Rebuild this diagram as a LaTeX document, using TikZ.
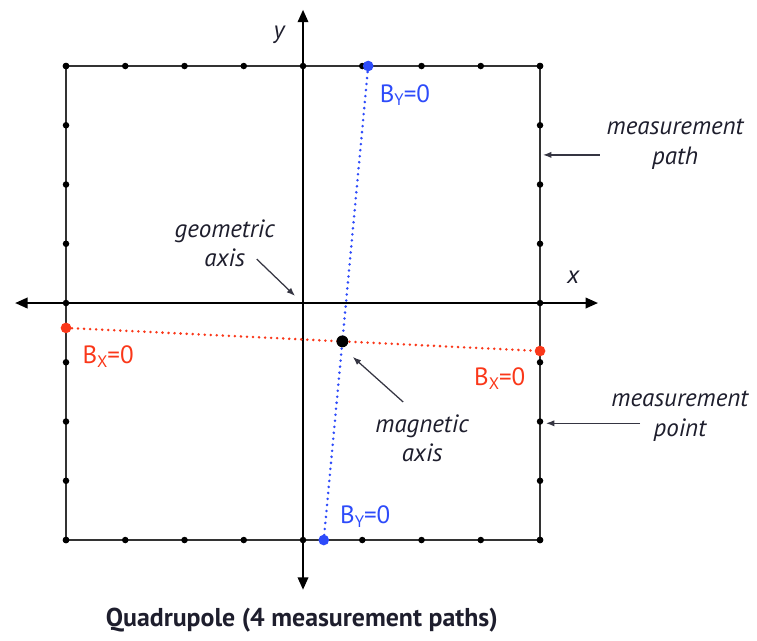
\documentclass[tikz,border=0pt]{standalone}
\usepackage{fontspec}
\setmainfont{PT Sans}
\usetikzlibrary{arrows.meta}
\definecolor{bxcol}{RGB}{250,55,25}
\definecolor{bycol}{RGB}{45,75,250}
\definecolor{notecol}{RGB}{30,30,45}
\newcommand{\lowcap}[1]{\raisebox{-0.3ex}{\footnotesize #1}}
\tikzset{
  axis/.style={line width=1.1pt,{Triangle[length=6pt,width=5pt]}-{Triangle[length=6pt,width=5pt]}},
  frame/.style={line width=0.8pt,black!80},
  mdot/.style={fill=black},
  bxline/.style={bxcol,line width=1.35pt,line cap=round,dash pattern=on 0pt off 2.9pt},
  byline/.style={bycol,line width=1.35pt,line cap=round,dash pattern=on 0pt off 2.9pt},
  note/.style={notecol,font=\fontsize{12}{14}\selectfont\itshape,align=center},
  pointer/.style={notecol!90,line width=0.6pt,-{Latex[length=4pt,width=3pt]}}
}

\begin{document}
\begin{tikzpicture}[x=1cm,y=1cm,font=\fontsize{12}{14}\selectfont]
\useasboundingbox (-5.114,-5.688) rectangle (7.662,5.114);
% axes
\coordinate (xl) at (-4.86,0);
\coordinate (xr) at (4.98,0);
\coordinate (yb) at (0,-4.84);
\coordinate (yt) at (0,4.95);
\draw[axis] (xl) -- (xr);
\draw[axis] (yb) -- (yt);
\node[note] (xlab) at (4.56,0.44) {x};
\node[note] (ylab) at (-0.405,4.52) {y};
% measurement path
\draw[frame] (-4,-4) rectangle (4,4);
\foreach \i in {-4,...,4} {
  \fill[mdot] (\i,4) circle (0.055);
  \fill[mdot] (\i,-4) circle (0.055);
  \fill[mdot] (-4,\i) circle (0.055);
  \fill[mdot] (4,\i) circle (0.055);
}
% zero lines
\coordinate (bxl) at (-4,-0.42);
\coordinate (bxr) at (4,-0.81);
\coordinate (byt) at (1.1,4);
\coordinate (byb) at (0.35,-4);
\draw[bxline] (bxl) -- (bxr);
\draw[byline] (byt) -- (byb);
\fill[bxcol] (bxl) circle (0.09);
\fill[bxcol] (bxr) circle (0.09);
\fill[bycol] (byt) circle (0.09);
\fill[bycol] (byb) circle (0.09);
\coordinate (mag) at (intersection of bxl--bxr and byt--byb);
\fill[black] (mag) circle (0.1);
\node[bycol] (bytlab) at (1.72,3.51) {B\lowcap{Y}=0};
\node[bycol] (byblab) at (1.05,-3.61) {B\lowcap{Y}=0};
\node[bxcol] (bxllab) at (-3.29,-0.91) {B\lowcap{X}=0};
\node[bxcol] (bxrlab) at (3.32,-1.27) {B\lowcap{X}=0};
% notes
\node[note] (pathlab) at (6.28,2.68) {measurement\\path};
\node[note] (pointlab) at (6.36,-1.91) {measurement\\point};
\node[note] (geolab) at (-1.32,1.01) {geometric\\axis};
\node[note] (maglab) at (2.01,-2.28) {magnetic\\axis};
\coordinate (pathtail) at (5.01,2.5);
\coordinate (pathtip) at (4.05,2.5);
\coordinate (pointtail) at (5.69,-2.03);
\coordinate (pointtip) at (4.1,-2.03);
\coordinate (geotail) at (-0.78,0.74);
\coordinate (geotip) at (-0.135,0.12);
\coordinate (magtail) at (1.69,-1.67);
\coordinate (magtip) at (0.84,-0.91);
\draw[pointer] (pathtail) -- (pathtip);
\draw[pointer] (pointtail) -- (pointtip);
\draw[pointer] (geotail) -- (geotip);
\draw[pointer] (magtail) -- (magtip);
\node[notecol,font=\fontsize{12.4}{14}\selectfont\bfseries] (title) at (-0.02,-5.35) {Quadrupole (4 measurement paths)};
\end{tikzpicture}
\end{document}
